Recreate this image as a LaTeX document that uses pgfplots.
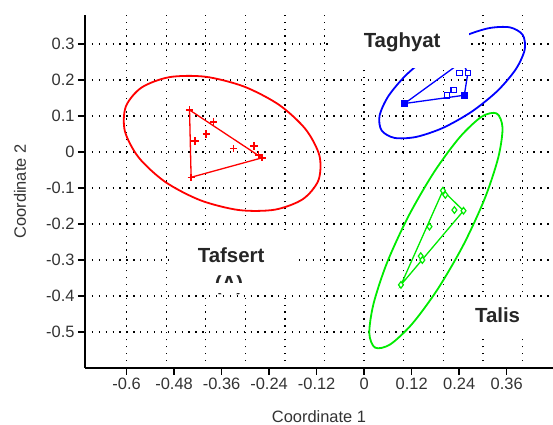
\documentclass[border=0pt]{standalone}
\usepackage{pgfplots}
\pgfplotsset{compat=1.18}
\usepackage{fontspec}
\setmainfont{Liberation Sans}
\definecolor{cred}{RGB}{255,0,0}
\definecolor{cblue}{RGB}{0,0,255}
\definecolor{cgreen}{RGB}{0,235,0}
\begin{document}
\begin{tikzpicture}
\begin{axis}[
  scale only axis, width=468bp, height=353bp,
  xmin=-0.705, xmax=0.477, ymin=-0.6, ymax=0.381,
  axis x line*=bottom, axis y line*=left,
  axis line style={-, line width=1.6bp, black},
  xtick={-0.6,-0.48,-0.36,-0.24,-0.12,0,0.12,0.24,0.36},
  ytick={-0.5,-0.4,-0.3,-0.2,-0.1,0,0.1,0.2,0.3},
  minor xtick={-0.6,-0.5,-0.4,-0.3,-0.2,-0.1,0,0.1,0.2,0.3,0.4},
  xmajorgrids=false, xminorgrids=true, ymajorgrids=true,
  major grid style={black, line width=1.3bp, dash pattern=on 1.3bp off 5.6bp},
  minor grid style={black, line width=1.3bp, dash pattern=on 1.3bp off 5.6bp},
  tick align=outside, major tick length=7bp, minor tick length=0pt,
  tick style={black, line width=1.6bp},
  ticklabel style={font=\fontsize{16.5}{18}\selectfont, text=black!80},
  /pgf/number format/assume math mode=true,
  xlabel={Coordinate 1}, ylabel={Coordinate 2},
  label style={font=\fontsize{16.5}{18}\selectfont, text=black!80},
  xlabel style={at={(axis description cs:0.5,0)}, anchor=center, yshift=-49bp},
  ylabel style={at={(axis description cs:0,0.5)}, anchor=center, yshift=65bp},
  clip marker paths=true,
]
% Tafsert (red)
\addplot[cred, line width=1.8bp, smooth cycle] coordinates {
(-0.1154,-0.0783) (-0.1548,-0.1308) (-0.2255,-0.1600) (-0.3162,-0.1611)
(-0.4136,-0.1339) (-0.5025,-0.0828) (-0.5694,-0.0150) (-0.6043,0.0583)
(-0.6018,0.1267) (-0.5624,0.1792) (-0.4917,0.2083) (-0.4010,0.2094)
(-0.3035,0.1822) (-0.2146,0.1311) (-0.1477,0.0633) (-0.1129,-0.0100)
};
\addplot[cred, line width=1.3bp] coordinates {
(-0.441,0.117) (-0.258,-0.016) (-0.437,-0.070) (-0.441,0.117)
};
\addplot[cred, only marks, mark=+, mark size=3.6bp, mark options={line width=1.4bp}] coordinates {
(-0.441,0.117) (-0.381,0.084) (-0.399,0.050) (-0.427,0.031) (-0.330,0.010)
(-0.278,0.017) (-0.258,-0.016) (-0.267,-0.008) (-0.437,-0.070)
};
% Taghyat (blue)
\addplot[cblue, line width=1.8bp, smooth cycle] coordinates {
(0.4003,0.3261) (0.4056,0.2850) (0.3831,0.2303) (0.3364,0.1697)
(0.2720,0.1126) (0.2000,0.0678) (0.1316,0.0422) (0.0768,0.0394)
(0.0442,0.0600) (0.0389,0.1008) (0.0614,0.1558) (0.1081,0.2164)
(0.1725,0.2735) (0.2444,0.3183) (0.3129,0.3439) (0.3677,0.3467)
};
\addplot[cblue, line width=1.3bp] coordinates {
(0.102,0.135) (0.253,0.158) (0.262,0.220) (0.247,0.251) (0.102,0.135)
};
\addplot[cblue, only marks, mark=square*, mark size=2.7bp, mark options={fill=white, line width=1.2bp}] coordinates {
(0.241,0.220) (0.262,0.220) (0.226,0.172) (0.209,0.158) (0.247,0.251)
};
\addplot[cblue, only marks, mark=square*, mark size=2.9bp, mark options={fill=cblue, line width=1.2bp}] coordinates {
(0.102,0.135) (0.253,0.158)
};
% Talis (green)
\addplot[cgreen, line width=1.8bp, smooth cycle] coordinates {
(0.3346,0.1075) (0.3495,0.0675) (0.3386,-0.0158) (0.3043,-0.1300)
(0.2508,-0.2578) (0.1866,-0.3794) (0.1220,-0.4764) (0.0662,-0.5342)
(0.0280,-0.5436) (0.0131,-0.5036) (0.0240,-0.4203) (0.0583,-0.3061)
(0.1119,-0.1783) (0.1760,-0.0567) (0.2407,0.0403) (0.2965,0.0981)
};
\addplot[cgreen, line width=1.3bp] coordinates {
(0.199,-0.107) (0.251,-0.163) (0.093,-0.369) (0.199,-0.107)
};
\addplot[cgreen, only marks, mark=diamond*, mark size=3.3bp, mark options={fill=white, line width=1.2bp}] coordinates {
(0.199,-0.107) (0.205,-0.119) (0.228,-0.161) (0.251,-0.163)
(0.165,-0.207) (0.143,-0.289) (0.147,-0.300) (0.093,-0.369)
};
% labels
\fill[white] (axis cs:-0.078,0.233) rectangle (axis cs:0.265,0.40);
\node[font=\fontsize{20.5}{22}\selectfont\bfseries, text=black!85] at (axis cs:0.096,0.304) {Taghyat};
\fill[white] (axis cs:-0.490,-0.222) rectangle (axis cs:-0.179,-0.389);
\node[font=\fontsize{20.5}{22}\selectfont\bfseries, text=black!85] at (axis cs:-0.336,-0.2875) {Tafsert};
\node[font=\fontsize{20.5}{22}\selectfont\bfseries, text=black!85] at (axis cs:-0.341,-0.370) {(A)};
\fill[white] (axis cs:-0.42,-0.364) rectangle (axis cs:-0.26,-0.392);
\fill[white] (axis cs:0.203,-0.403) rectangle (axis cs:0.50,-0.51);
\node[font=\fontsize{20.5}{22}\selectfont\bfseries, text=black!85] at (axis cs:0.337,-0.453) {Talis};
\coordinate (BL) at (rel axis cs:0,0);
\coordinate (TR) at (rel axis cs:1,1);
\end{axis}
\pgfresetboundingbox
\path[use as bounding box] ([shift={(-85bp,-57bp)}]BL) rectangle ([shift={(0bp,15bp)}]TR);
\end{tikzpicture}
\end{document}
